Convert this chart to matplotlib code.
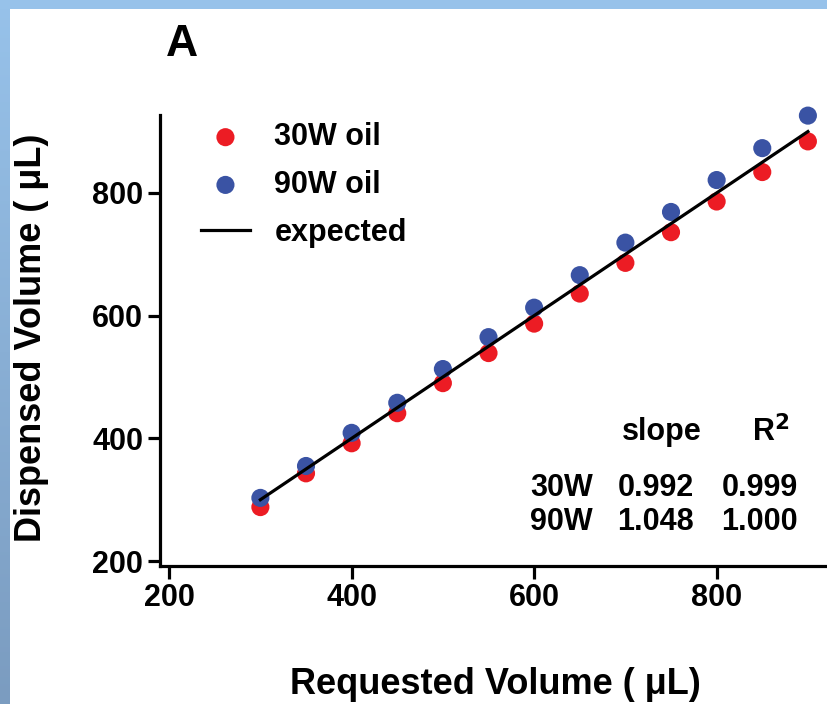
import numpy as np
import matplotlib
matplotlib.use("Agg")
import matplotlib.pyplot as plt

plt.rcParams['font.family'] = ['Liberation Sans', 'DejaVu Sans']

requested = [300, 350, 400, 450, 500, 550, 600, 650, 700, 750, 800, 850, 900]
oil_30w = [288, 343, 392, 441, 490, 539, 587, 636, 686, 736, 786, 834, 884]
oil_90w = [303, 355, 409, 458, 513, 565, 613, 666, 719, 769, 821, 873, 926]
expected = requested
ticks = [200, 400, 600, 800]
stats_rows = ["30W", "90W"]
slopes = ["0.992", "1.048"]
r2 = ["0.999", "1.000"]

W, H = 827, 704
fig = plt.figure(figsize=(W / 100, H / 100), dpi=100)

def px(x, y):
    return (x / W, 1 - y / H)

# background border (blue frame on top and left)
bg = fig.add_axes([0, 0, 1, 1])
bg.set_xlim(0, W); bg.set_ylim(H, 0); bg.axis('off')
grad = np.linspace(0, 1, 256).reshape(-1, 1)
c_top = np.array([0x97, 0xC2, 0xEA]) / 255
c_bot = np.array([0x7B, 0x9C, 0xC0]) / 255
img = c_top[None, None, :] * (1 - grad[:, :, None]) + c_bot[None, None, :] * grad[:, :, None]
bg.imshow(img, extent=[0, 10, H, 0], aspect='auto')
bg.add_patch(plt.Rectangle((0, 0), W, 9, color=c_top, lw=0))

ax = fig.add_axes([160 / W, 1 - 566 / H, 1 - 160 / W + 0.01, (566 - 115) / H])
ax.set_xlim(190, 930)
ax.set_ylim(192, 927)

ax.plot(requested, expected, color='black', lw=2.3, zorder=3, label='expected')
ax.scatter(requested, oil_30w, s=170, color='#EC1C24', edgecolors='none', zorder=2,
           label='30W oil', clip_on=False)
ax.scatter(requested, oil_90w, s=170, color='#3A53A4', edgecolors='none', zorder=2,
           label='90W oil', clip_on=False)

for s in ['top', 'right']:
    ax.spines[s].set_visible(False)
for s in ['left', 'bottom']:
    ax.spines[s].set_linewidth(2.3)
ax.set_xticks(ticks)
ax.set_yticks(ticks)
ax.tick_params(width=2.3, length=9, labelsize=22, pad=3)
for lab in ax.get_xticklabels() + ax.get_yticklabels():
    lab.set_fontweight('bold')

fig.text(*px(495, 685), 'Requested Volume ( μL)', fontsize=26, fontweight='bold',
         ha='center', va='center')
fig.text(*px(32, 338), 'Dispensed Volume ( μL)', fontsize=26, fontweight='bold',
         ha='center', va='center', rotation=90)

h, l = ax.get_legend_handles_labels()
order = [1, 2, 0]
leg = ax.legend([h[i] for i in order], [l[i] for i in order], loc='upper left',
                bbox_to_anchor=(0.02, 1.045), frameon=False,
                prop={'weight': 'bold', 'size': 22}, handlelength=1.6,
                handletextpad=0.8, labelspacing=0.58, markerscale=1.0)

# stats table
fig.text(*px(662, 432), 'slope', fontsize=22, fontweight='bold', ha='center', va='center')
fig.text(*px(771, 432), 'R$^\\mathbf{2}$', fontsize=22, fontweight='bold', ha='center', va='center')
rows_y = [488, 522]
for i, yy in enumerate(rows_y):
    fig.text(*px(530, yy), stats_rows[i], fontsize=22, fontweight='bold', ha='left', va='center')
    fig.text(*px(694, yy), slopes[i], fontsize=22, fontweight='bold', ha='right', va='center')
    fig.text(*px(798, yy), r2[i], fontsize=22, fontweight='bold', ha='right', va='center')

fig.text(*px(182, 45), 'A', fontsize=32, fontweight='bold', ha='center', va='center')

fig.savefig('out.png', dpi=100)
